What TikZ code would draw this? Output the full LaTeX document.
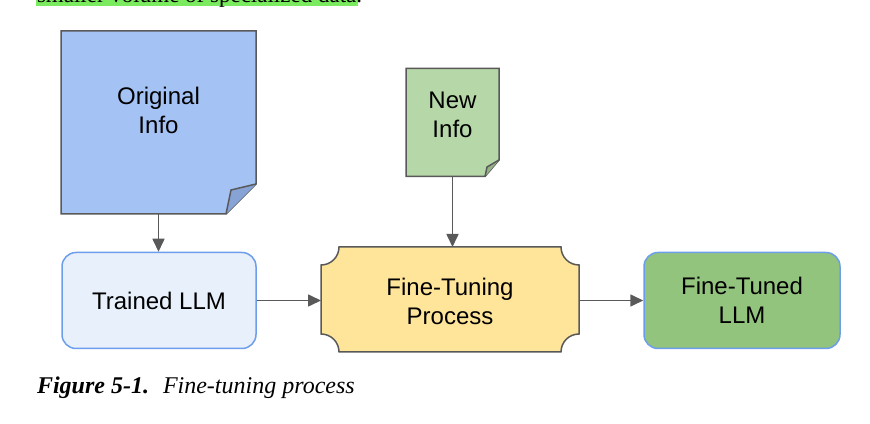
\documentclass[tikz,border=0pt]{standalone}
\usepackage{fontspec}
\setmainfont{Liberation Sans}
\newfontfamily\captionfont{Liberation Serif}
\usetikzlibrary{calc,arrows.meta}

\definecolor{noteblue}{HTML}{A4C2F4}
\definecolor{noteblueflap}{HTML}{87A3D6}
\definecolor{notegreen}{HTML}{B6D7A8}
\definecolor{notegreenflap}{HTML}{94B386}
\definecolor{llmfill}{HTML}{E8F0FC}
\definecolor{llmborder}{HTML}{6D9EEB}
\definecolor{procfill}{HTML}{FFE599}
\definecolor{tunedfill}{HTML}{93C47D}
\definecolor{edgegray}{HTML}{595959}
\definecolor{markgreen}{HTML}{7AEB5E}

\tikzset{
	boxtext/.style={font=\fontsize{24}{29}\selectfont, align=center, text=black},
	llmbox/.style={boxtext, draw=llmborder, line width=1.5pt, rounded corners=14pt, minimum height=96pt, inner sep=0pt},
	area/.style={inner sep=0pt, outer sep=0pt},
	outline/.style={draw=edgegray, line width=1.5pt, line join=miter},
	flow/.style={draw=edgegray, line width=1.6pt, -{Triangle[length=13pt,width=12pt]}}
}

\begin{document}
\begin{tikzpicture}[x=1pt,y=1pt]
		
			\useasboundingbox (0,0) rectangle (870,423);
			
			%cut-off line of text above the figure
			\begin{scope}
				\clip (0,0) rectangle (870,423);
				\fill[markgreen] (36,417.3) rectangle (358,430);
				\node[area, anchor=base west, font=\captionfont\fontsize{23}{27}\selectfont] (topline) at (37,420.5) {smaller volume of specialized data.};
			\end{scope}
			
			%original info note
			\node[area, minimum width=195pt, minimum height=183pt] (orig) at (158.5,300.5) {};
			\draw [outline, fill=noteblue] (orig.north west) -- (orig.north east) -- ($(orig.south east)+(0,30)$) -- ($(orig.south east)+(-30,0)$) -- (orig.south west) -- cycle;
			\draw [outline, fill=noteblueflap] ($(orig.south east)+(-30,0)$) -- ($(orig.south east)+(-25,24)$) -- ($(orig.south east)+(0,30)$);
			\node[boxtext] (origtxt) at (158.5,313) {Original\\Info};
			
			%new info note
			\node[area, minimum width=93pt, minimum height=108pt] (new) at (452.5,300.5) {};
			\draw [outline, fill=notegreen] (new.north west) -- (new.north east) -- ($(new.south east)+(0,16.5)$) -- ($(new.south east)+(-14,0)$) -- (new.south west) -- cycle;
			\draw [outline, fill=notegreenflap] ($(new.south east)+(-14,0)$) -- ($(new.south east)+(-12,9.5)$) -- ($(new.south east)+(0,16.5)$);
			\node[boxtext] (newtxt) at (452.5,308) {New\\Info};
			
			%trained and fine-tuned models
			\node[llmbox, fill=llmfill, minimum width=194pt] (trained) at (159,122.5) {Trained LLM};
			\node[llmbox, fill=tunedfill, minimum width=196pt] (tuned) at (742,122.5) {Fine-Tuned\\LLM};
			
			%fine-tuning process, corners scooped out
			\node[area, minimum width=258pt, minimum height=105pt] (ftp) at (450,123.5) {};
			\draw [outline, fill=procfill] ($(ftp.north west)+(0,-18)$) arc[start angle=-90, end angle=0, radius=18]
				-- ($(ftp.north east)+(-18,0)$) arc[start angle=180, end angle=270, radius=18]
				-- ($(ftp.south east)+(0,18)$) arc[start angle=90, end angle=180, radius=18]
				-- ($(ftp.south west)+(18,0)$) arc[start angle=0, end angle=90, radius=18]
				-- cycle;
			\node[boxtext] (ftptxt) at (450,121.5) {Fine-Tuning\\Process};
			
			%arrows
			\draw [flow] (orig.south) -- (orig.south |- trained.north);
			\draw [flow] (new.south) -- (new.south |- ftp.north);
			\draw [flow] (trained.east) -- (trained.east -| ftp.west);
			\draw [flow] (ftp.east |- tuned.west) -- (tuned.west);
			
			%caption
			\node[area, anchor=base west, font=\captionfont\fontsize{24}{29}\selectfont] (caption) at (37,29) {\textbf{\textit{Figure 5-1.}}\hspace{14pt}\textit{Fine-tuning process}};
		
	\end{tikzpicture}
\end{document}
